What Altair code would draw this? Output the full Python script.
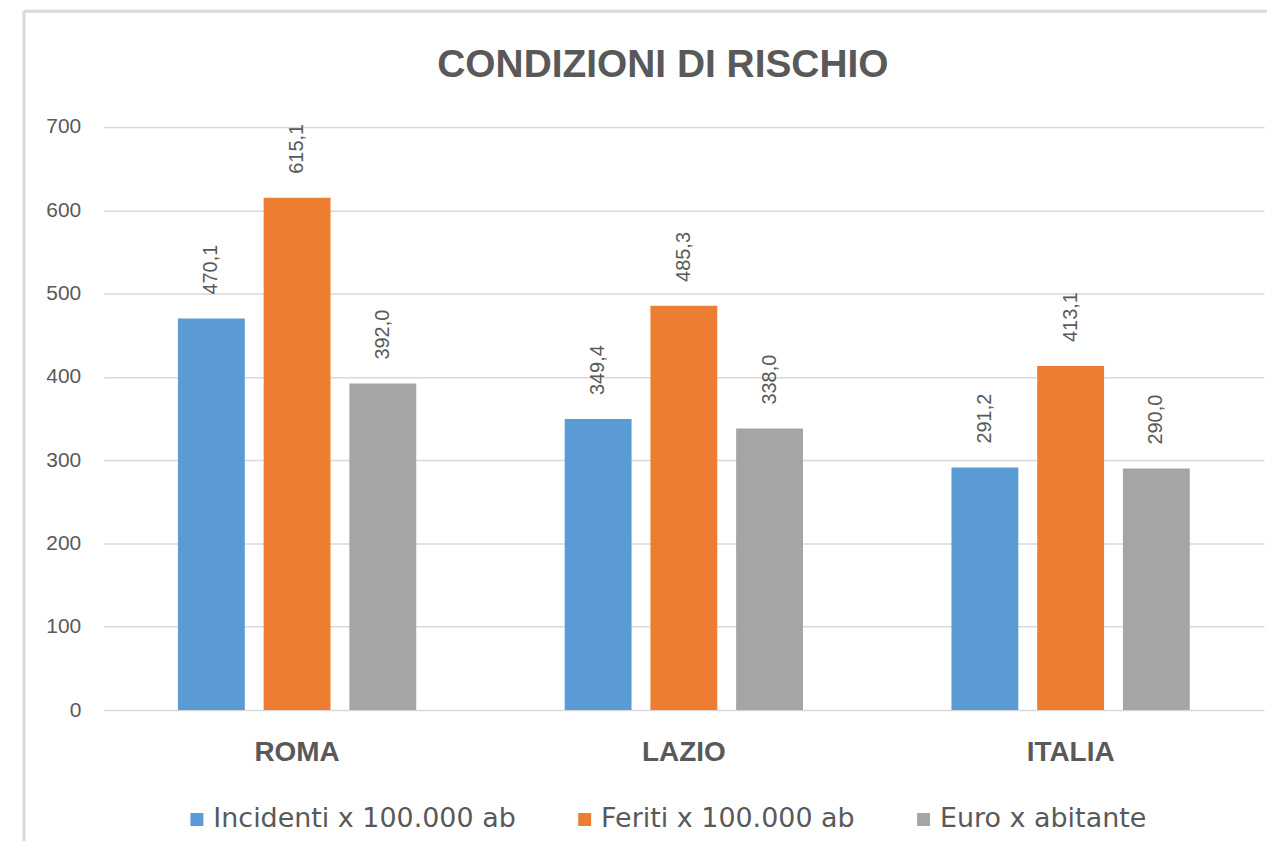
import altair as alt
import pandas as pd

regions = ["ROMA", "LAZIO", "ITALIA"]
series = ["Incidenti x 100.000 ab", "Feriti x 100.000 ab", "Euro x abitante"]
incidenti = [470.1, 349.4, 291.2]
feriti = [615.1, 485.3, 413.1]
euro = [392.0, 338.0, 290.0]
colors = ["#5B9BD5", "#ED7D31", "#A5A5A5"]
y_ticks = [0, 100, 200, 300, 400, 500, 600, 700]

rows = []
for s, vals in zip(series, [incidenti, feriti, euro]):
    for r, v in zip(regions, vals):
        rows.append({"regione": r, "serie": s, "valore": v,
                     "etichetta": f"{v:.1f}".replace(".", ",")})
df = pd.DataFrame(rows)

TXT = "#595959"

base = alt.Chart(df).encode(
    x=alt.X("regione:N", sort=regions,
            scale=alt.Scale(paddingInner=0, paddingOuter=0),
            axis=alt.Axis(title=None, labelAngle=0, labelFont="Liberation Sans",
                          labelFontSize=28, labelFontWeight="bold", labelColor=TXT,
                          domain=False, ticks=False, labelPadding=29, grid=False)),
    xOffset=alt.XOffset("serie:N", sort=series,
                        scale=alt.Scale(paddingInner=0.22, paddingOuter=0.866)),
    y=alt.Y("valore:Q", scale=alt.Scale(domain=[0, 700], nice=False),
            axis=alt.Axis(values=y_ticks, title=None, labelFont="Liberation Sans",
                          labelFontSize=21, labelColor=TXT, domain=False, ticks=False,
                          labelPadding=23, gridColor="#D9D9D9", gridWidth=1.5)),
)

bars = base.mark_bar().encode(
    color=alt.Color("serie:N", sort=series,
                    scale=alt.Scale(domain=series, range=colors),
                    legend=alt.Legend(title=None, orient="none", direction="horizontal",
                                      legendX=80, legendY=681,
                                      symbolType="square", symbolSize=169,
                                      symbolStrokeWidth=0, labelFont="DejaVu Sans",
                                      labelFontSize=27, labelColor=TXT,
                                      columnPadding=55, labelLimit=0, labelOffset=3))
)

labels = base.mark_text(angle=270, align="left", baseline="middle", dx=24,
                        font="Liberation Sans", fontSize=20, color=TXT).encode(
    text="etichetta:N"
)

frame_df = pd.DataFrame({"k": [0]})
frame_left = alt.Chart(frame_df).mark_rule(color="#D9D9D9", strokeWidth=3).encode(
    x=alt.value(-80), y=alt.value(-116), y2=alt.value(900))
frame_top = alt.Chart(frame_df).mark_rule(color="#D9D9D9", strokeWidth=3).encode(
    x=alt.value(-80), x2=alt.value(1400), y=alt.value(-116))

chart = alt.layer(frame_left, frame_top, bars, labels).properties(
    width=1164, height=585,
    title=alt.TitleParams("CONDIZIONI DI RISCHIO", font="Liberation Sans", fontSize=39,
                          fontWeight="bold", color=TXT, anchor="middle", dx=-21,
                          offset=0, dy=75),
    autosize=alt.AutoSizeParams(type="none"),
    padding={"left": 96, "top": 118, "right": 3, "bottom": 130},
).configure_view(stroke=None)

chart.save("out.html", embed_options={"renderer": "svg", "actions": False})
